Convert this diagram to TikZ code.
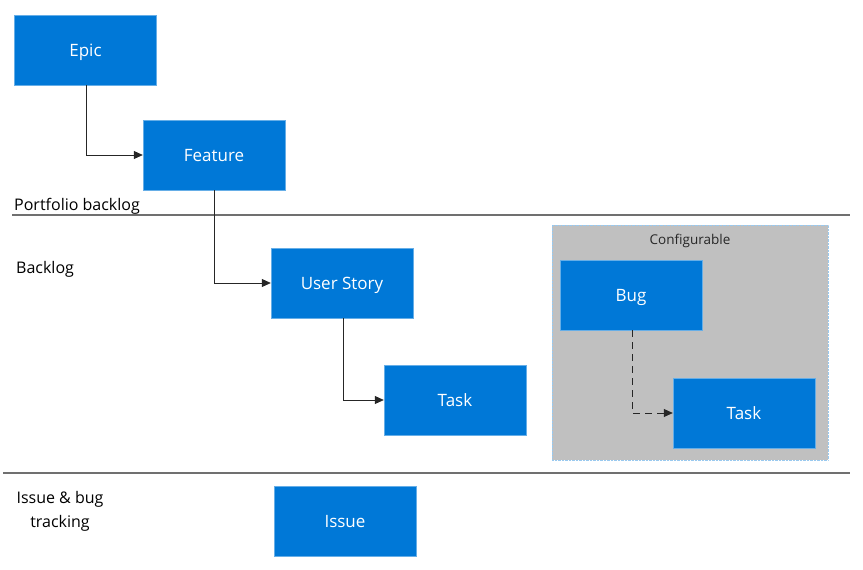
\documentclass[tikz,border=0pt]{standalone}
\usepackage{fontspec}
\setmainfont{Open Sans}
\usetikzlibrary{arrows.meta}
\definecolor{itemblue}{HTML}{0078D7}
\definecolor{cfggray}{HTML}{C0C0C0}
\definecolor{sepgray}{HTML}{707070}
\begin{document}
\begin{tikzpicture}[x=1pt,y=-1pt,
  item/.style={draw=itemblue!60!white, line width=0.4pt, fill=itemblue, text=white,
    minimum width=142pt, minimum height=70pt, inner sep=0pt, text height=13pt, text depth=0pt,
    font=\fontsize{17}{20}\selectfont},
  link/.style={draw=black!85, line width=0.8pt, -{Triangle[length=9pt,width=8pt]}},
  sep/.style={draw=sepgray, line width=1.5pt},
  lane/.style={anchor=west, font=\fontsize{16}{19}\selectfont, inner sep=0pt, text height=11.5pt, text depth=0pt}]
\useasboundingbox (0,0) rectangle (863,570);
% configurable group
\node[draw=itemblue!40!white, line width=0.4pt, densely dotted, fill=cfggray, minimum width=276pt, minimum height=235pt, inner sep=0pt] (cfg) at (690,342.5) {};
\node[font=\fontsize{13.5}{15}\selectfont, text=black!85, inner sep=0pt, text height=10.5pt, text depth=0pt] (cfglbl) at (690,239.5) {Configurable};
% separators
\coordinate (s1a) at (12,215); \coordinate (s1b) at (850,215);
\coordinate (s2a) at (3,473); \coordinate (s2b) at (850,473);
\draw[sep] (s1a) -- (s1b);
\draw[sep] (s2a) -- (s2b);
% lane labels
\node[lane] (pb) at (14,205) {Portfolio backlog};
\node[lane] (bl) at (16,268) {Backlog};
\node[font=\fontsize{16}{24}\selectfont, align=center, inner sep=0pt] (ib) at (60,511) {Issue \& bug\\tracking};
% items
\node[item] (epic) at (85.5,50) {Epic};
\node[item] (feature) at (214,155) {Feature};
\node[item] (story) at (342,283) {User Story};
\node[item] (task) at (455,400) {Task};
\node[item] (bug) at (631,295) {Bug};
\node[item] (task2) at (744,413) {Task};
\node[item] (issue) at (345,521) {Issue};
% connectors
\draw[link] ([xshift=0.5pt]epic.south) |- (feature.west);
\draw[link] (feature.south) |- (story.west);
\draw[link] ([xshift=1pt]story.south) |- (task.west);
\draw[link, dash pattern=on 7pt off 5pt] ([xshift=1pt]bug.south) |- (task2.west);
\end{tikzpicture}
\end{document}
